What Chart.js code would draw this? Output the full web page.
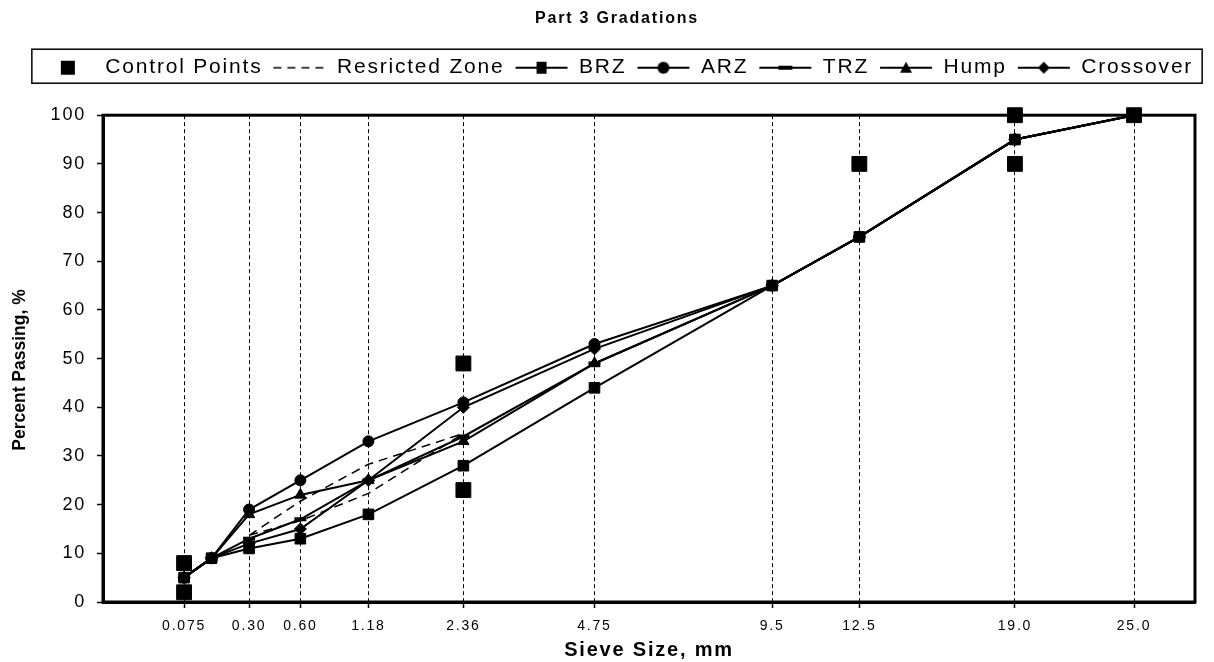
<!DOCTYPE html>
<html>
<head>
<meta charset="utf-8">
<title>Part 3 Gradations</title>
<script src="https://cdn.jsdelivr.net/npm/chart.js@4.4.1/dist/chart.umd.min.js"></script>
<style>
  html, body { margin: 0; padding: 0; background: #fff; }
  canvas { display: block; }
</style>
</head>
<body>
<canvas id="gradationChart" width="1214" height="662"></canvas>
<script>
// sieve sizes (mm), plotted on the 0.45 power scale
const sieveSizes = [0.075, 0.15, 0.30, 0.60, 1.18, 2.36, 4.75, 9.5, 12.5, 19.0, 25.0];
const tickSizes = [0.075, 0.30, 0.60, 1.18, 2.36, 4.75, 9.5, 12.5, 19.0, 25.0];
const tickLabels = ["0.075", "0.30", "0.60", "1.18", "2.36", "4.75", "9.5", "12.5", "19.0", "25.0"];

// percent passing for each trial gradation (same order as sieveSizes)
const brz = [5, 9, 11, 13, 18, 28, 44, 65, 75, 95, 100];
const arz = [5, 9, 19, 25, 33, 41, 53, 65, 75, 95, 100];
const trz = [5, 9, 13, 17, 25, 34, 49, 65, 75, 95, 100];
const hump = [5, 9, 18, 22, 25, 33, 49, 65, 75, 95, 100];
const crossover = [5, 9, 12, 15, 25, 40, 52, 65, 75, 95, 100];

// control points
const controlSizes = [0.075, 0.075, 2.36, 2.36, 12.5, 19.0, 19.0, 25.0];
const controlValues = [2, 8, 23, 49, 90, 90, 100, 100];

// restricted zone limits
const zoneSizes = [0.30, 0.60, 1.18, 2.36];
const zoneLower = [13.7, 16.7, 22.3, 34.6];
const zoneUpper = [13.7, 20.7, 28.3, 34.6];

const pw = s => Math.pow(s, 0.45);
const toPoints = (sizes, vals) => sizes.map((s, i) => ({ x: pw(s), y: vals[i] }));

const zonePoints = toPoints(zoneSizes, zoneLower)
  .concat([{ x: pw(2.36), y: null }])
  .concat(toPoints(zoneSizes, zoneUpper));

const FONT = "'Liberation Sans', Arial, sans-serif";
const SPACING = '1.8px';
const Y_TITLE = 'Percent Passing, %';

// little legend pictures: line plus marker
function legendIcon(kind) {
  const c = document.createElement('canvas');
  c.width = 54; c.height = 20;
  const g = c.getContext('2d');
  g.strokeStyle = '#000';
  g.fillStyle = '#000';
  const cx = 27, cy = 10;
  if (kind !== 'control') {
    g.lineWidth = kind === 'zone' ? 1.5 : 2;
    if (kind === 'zone') g.setLineDash([8, 6]);
    g.beginPath(); g.moveTo(1, cy); g.lineTo(53, cy); g.stroke();
    g.setLineDash([]);
  }
  g.beginPath();
  if (kind === 'control') g.rect(cx - 7, cy - 7, 14, 14);
  if (kind === 'brz') g.rect(cx - 5, cy - 6, 10, 12);
  if (kind === 'arz') g.arc(cx, cy, 6, 0, Math.PI * 2);
  if (kind === 'trz') g.rect(cx - 7, cy - 2, 14, 4);
  if (kind === 'hump') { g.moveTo(cx, cy - 6); g.lineTo(cx + 6, cy + 5); g.lineTo(cx - 6, cy + 5); g.closePath(); }
  if (kind === 'cross') { g.moveTo(cx, cy - 6); g.lineTo(cx + 6, cy); g.lineTo(cx, cy + 6); g.lineTo(cx - 6, cy); g.closePath(); }
  g.fill();
  return c;
}
const icons = ['control', 'zone', 'brz', 'arz', 'trz', 'hump', 'cross'].map(legendIcon);

const framePlugin = {
  id: 'frame',
  beforeUpdate(chart) { chart.ctx.letterSpacing = SPACING; },
  beforeDraw(chart) {
    const ctx = chart.ctx;
    ctx.save();
    ctx.fillStyle = '#fff';
    ctx.fillRect(0, 0, chart.width, chart.height);
    ctx.restore();
    ctx.letterSpacing = SPACING;
  },
  beforeDatasetsDraw(chart) {
    const { ctx, chartArea: a } = chart;
    ctx.save();
    ctx.lineWidth = 3;
    ctx.strokeStyle = '#000';
    ctx.strokeRect(a.left, a.top, a.right - a.left, a.bottom - a.top);
    ctx.restore();
  },
  afterDraw(chart) {
    const ctx = chart.ctx;
    // box round the legend row
    const hb = chart.legend.legendHitBoxes;
    if (hb && hb.length) {
      const left = hb[0].left - 9;
      const last = hb[hb.length - 1];
      const right = last.left + last.width + 9;
      const top = hb[0].top - 8;
      const bottom = hb[0].top + hb[0].height + 5;
      ctx.save();
      ctx.lineWidth = 1.5;
      ctx.strokeStyle = '#000';
      ctx.strokeRect(left, top, right - left, bottom - top);
      ctx.restore();
    }
    // y axis title, unspaced
    ctx.save();
    ctx.letterSpacing = '0px';
    ctx.fillStyle = '#000';
    ctx.font = 'bold 17.5px ' + FONT;
    ctx.textAlign = 'center';
    ctx.textBaseline = 'middle';
    ctx.translate(20, 370);
    ctx.rotate(-Math.PI / 2);
    ctx.fillText(Y_TITLE, 0, 0);
    ctx.restore();
  }
};

const lineSet = (label, vals, style, radius, extra) => Object.assign({
  label: label,
  data: toPoints(sieveSizes, vals),
  xAxisID: 'x',
  yAxisID: 'y',
  borderColor: '#000',
  backgroundColor: '#000',
  borderWidth: 2,
  pointStyle: style,
  pointRadius: radius,
  pointBackgroundColor: '#000',
  pointBorderColor: '#000',
  pointBorderWidth: 1,
  showLine: true,
  clip: false
}, extra || {});

const spacerAxis = (position, size) => ({
  type: 'linear',
  position: position,
  min: 0,
  max: 1,
  ticks: { display: false },
  grid: { display: false, drawTicks: false },
  border: { display: false },
  afterFit: scale => {
    if (position === 'top') scale.height = size; else scale.width = size;
  }
});

new Chart(document.getElementById('gradationChart'), {
  type: 'scatter',
  data: {
    datasets: [
      {
        label: 'Control Points',
        data: toPoints(controlSizes, controlValues),
        xAxisID: 'x',
        yAxisID: 'y',
        pointStyle: 'rect',
        pointRadius: 10.5,
        backgroundColor: '#000',
        borderColor: '#000',
        showLine: false,
        clip: false
      },
      {
        label: 'Resricted Zone',
        data: zonePoints,
        xAxisID: 'x',
        yAxisID: 'y',
        borderColor: '#000',
        borderWidth: 1.5,
        borderDash: [9, 6],
        pointRadius: 0,
        showLine: true,
        spanGaps: false,
        clip: false
      },
      lineSet('BRZ', brz, 'rect', 7.5),
      lineSet('ARZ', arz, 'circle', 5.5),
      lineSet('TRZ', trz, 'line', 6, { pointBorderWidth: 4 }),
      lineSet('Hump', hump, 'triangle', 6.5),
      lineSet('Crossover', crossover, 'rectRot', 6)
    ]
  },
  options: {
    responsive: false,
    animation: false,
    devicePixelRatio: 1,
    layout: { padding: { left: 20, right: 0, top: 0, bottom: 0 } },
    plugins: {
      title: {
        display: true,
        text: 'Part 3 Gradations',
        color: '#000',
        font: { family: FONT, size: 16, weight: 'bold' },
        padding: { top: 9, bottom: 19 }
      },
      legend: {
        display: true,
        position: 'top',
        labels: {
          color: '#000',
          font: { family: FONT, size: 21 },
          usePointStyle: true,
          pointStyleWidth: 54,
          padding: 10,
          generateLabels: chart => chart.data.datasets.map((ds, i) => ({
            text: ds.label,
            pointStyle: icons[i],
            fillStyle: '#000',
            strokeStyle: '#000',
            lineWidth: 0,
            hidden: false,
            datasetIndex: i,
            fontColor: '#000'
          }))
        }
      },
      tooltip: { enabled: false }
    },
    scales: {
      x: {
        type: 'linear',
        position: 'bottom',
        min: -0.025,
        max: 4.51,
        afterBuildTicks: scale => { scale.ticks = tickSizes.map(s => ({ value: pw(s) })); },
        afterFit: scale => { scale.height = 60; },
        ticks: {
          autoSkip: false,
          maxRotation: 0,
          color: '#000',
          padding: 10,
          font: { family: FONT, size: 14 },
          callback: (v, i) => tickLabels[i]
        },
        grid: { color: '#000', lineWidth: 1, tickLength: 6, tickColor: '#000', tickWidth: 1.5 },
        border: { display: true, color: '#000', width: 3, dash: [4, 3] },
        title: {
          display: true,
          text: 'Sieve Size, mm',
          color: '#000',
          font: { family: FONT, size: 20, weight: 'bold' },
          padding: { top: 0, bottom: 0 }
        }
      },
      y: {
        type: 'linear',
        min: 0,
        max: 100,
        afterFit: scale => { scale.width = 83; },
        ticks: {
          stepSize: 10,
          color: '#000',
          padding: 11,
          font: { family: FONT, size: 18 }
        },
        grid: { drawOnChartArea: false, color: '#000', tickLength: 6, tickWidth: 1.5 },
        border: { display: true, color: '#000', width: 3 },
        title: { display: false }
      },
      spacerTop: spacerAxis('top', 27),
      spacerRight: spacerAxis('right', 19)
    }
  },
  plugins: [framePlugin]
});
</script>
</body>
</html>
